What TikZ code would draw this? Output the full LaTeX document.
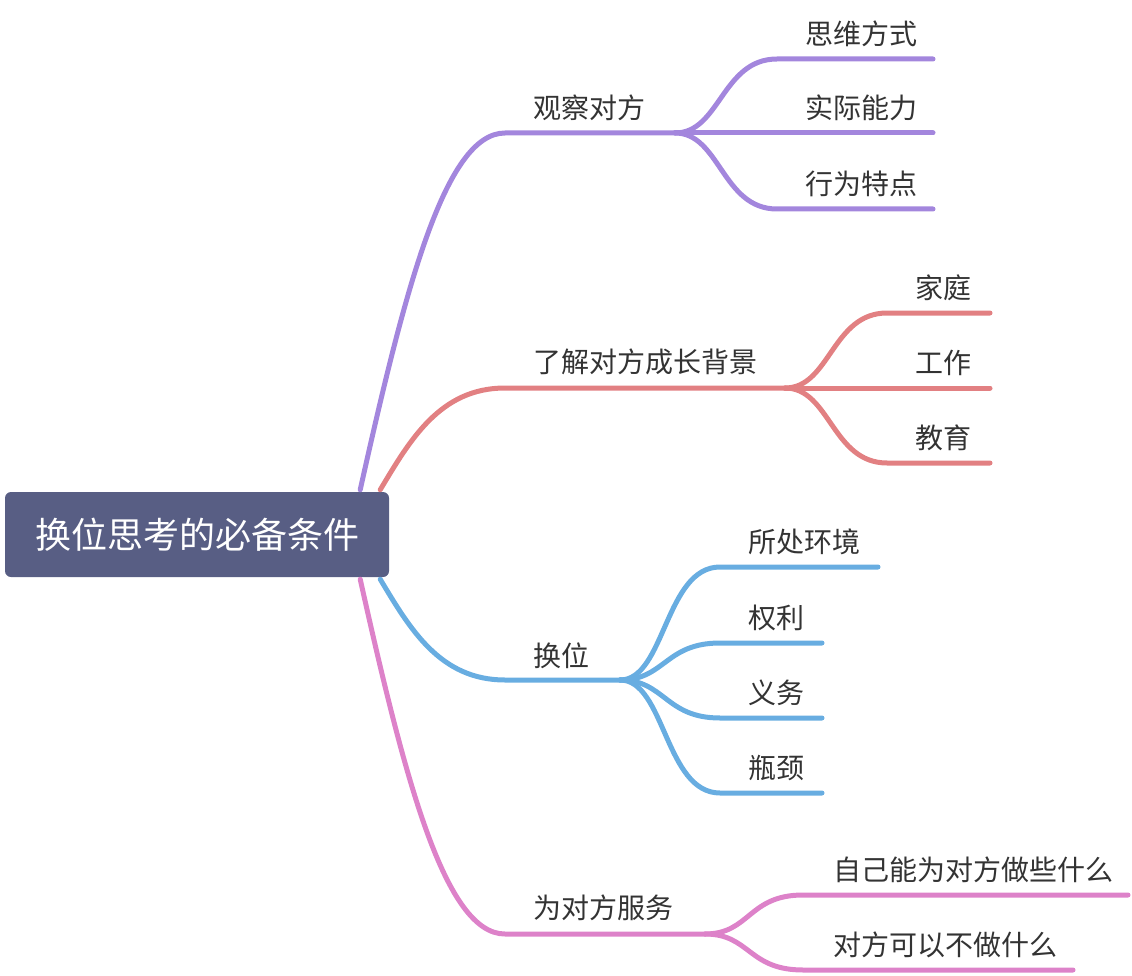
\documentclass[tikz,border=0pt]{standalone}
\usepackage{fontspec}
\setmainfont{Noto Sans CJK SC}
\usepackage{tikz}
\usetikzlibrary{positioning,calc}
\usepackage{xcolor}
\definecolor{rootslate}{RGB}{88,94,132}
\definecolor{limbpurple}{RGB}{163,134,221}
\definecolor{limbred}{RGB}{226,128,130}
\definecolor{limbblue}{RGB}{104,173,225}
\definecolor{limbpink}{RGB}{221,130,201}
\definecolor{inkgray}{RGB}{51,51,51}

\tikzset{
  rootbox/.style={fill=rootslate, rounded corners=6pt, text=white, inner sep=0pt,
    font=\fontsize{36}{40}\selectfont, minimum width=384pt, minimum height=85pt},
  topic/.style={font=\fontsize{28}{32}\selectfont, text=inkgray, anchor=west, inner sep=0pt},
  limb/.style={line width=5pt, line cap=round},
}

\begin{document}
\begin{tikzpicture}[x=1pt,y=-1pt]
    \useasboundingbox (0,0) rectangle (1132,976);

    % Root
    \node[rootbox] (root) at (197,534.5) {换位思考的必备条件};

    % Purple: 观察对方
    \coordinate (pa) at ($(root.north east)+(-29,-2)$);
    \coordinate (pb) at (505,133);
    \coordinate (pf) at (675,133);
    \node[topic] (observe) at (533,108) {观察对方};
    \draw[limb,limbpurple] (pa) .. controls (405,289) and (445,133) .. (pb) -- (pf);
    \foreach \y/\txt in {59/思维方式, 133/实际能力, 209/行为特点} {
      \coordinate (ps\y) at (777,\y);
      \coordinate (pe\y) at (933,\y);
      \node[topic] (pt\y) at (805,\y-25) {\txt};
      \draw[limb,limbpurple] (pf) .. controls +(45,0) and +(-55,0) .. (ps\y) -- (pe\y);
    }

    % Red: 了解对方成长背景
    \coordinate (ra) at ($(root.north east)+(-9,-2)$);
    \coordinate (rb) at (505,388);
    \coordinate (rf) at (785,388);
    \node[topic] (growth) at (533,362) {了解对方成长背景};
    \draw[limb,limbred] (ra) .. controls (410,440) and (440,388) .. (rb) -- (rf);
    \foreach \y/\txt in {313/家庭, 388/工作, 463/教育} {
      \coordinate (rs\y) at (887,\y);
      \coordinate (re\y) at (990,\y);
      \node[topic] (rt\y) at (915,\y-25) {\txt};
      \draw[limb,limbred] (rf) .. controls +(45,0) and +(-55,0) .. (rs\y) -- (re\y);
    }

    % Blue: 换位
    \coordinate (ba) at ($(root.south east)+(-9,2)$);
    \coordinate (bb) at (505,680);
    \coordinate (bf) at (620,680);
    \node[topic] (swap) at (533,656) {换位};
    \draw[limb,limbblue] (ba) .. controls (410,629) and (440,680) .. (bb) -- (bf);
    \foreach \y/\e/\txt in {567/878/所处环境, 643/822/权利, 718/822/义务, 793/822/瓶颈} {
      \coordinate (bs\y) at (720,\y);
      \coordinate (be\y) at (\e,\y);
      \node[topic] (bt\y) at (748,\y-25) {\txt};
      \draw[limb,limbblue] (bf) .. controls +(45,0) and +(-55,0) .. (bs\y) -- (be\y);
    }

    % Pink: 为对方服务
    \coordinate (ka) at ($(root.south east)+(-29,2)$);
    \coordinate (kb) at (505,934);
    \coordinate (kf) at (705,934);
    \node[topic] (serve) at (533,908) {为对方服务};
    \draw[limb,limbpink] (ka) .. controls (405,780) and (445,934) .. (kb) -- (kf);
    \foreach \y/\e/\txt in {895/1128/自己能为对方做些什么, 970/1073/对方可以不做什么} {
      \coordinate (ks\y) at (803,\y);
      \coordinate (ke\y) at (\e,\y);
      \node[topic] (kt\y) at (833,\y-25) {\txt};
      \draw[limb,limbpink] (kf) .. controls +(45,0) and +(-55,0) .. (ks\y) -- (ke\y);
    }
  \end{tikzpicture}
\end{document}
